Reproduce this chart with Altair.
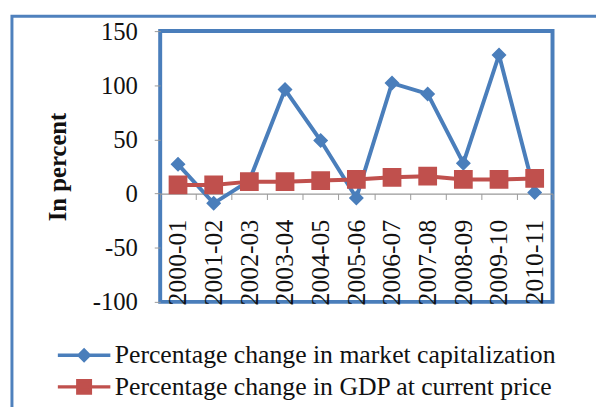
import altair as alt
import pandas as pd

years = ["2000-01", "2001-02", "2002-03", "2003-04", "2004-05", "2005-06",
         "2006-07", "2007-08", "2008-09", "2009-10", "2010-11"]
market_cap = [27, -9, 12, 96, 49, -4, 102, 92, 28, 128, 1]
gdp = [8, 8, 11, 11, 12, 13, 15, 16, 13, 13, 14]
series_names = ["Percentage change in market capitalization",
                "Percentage change in GDP at current price"]
series_colors = ["#4a7ebb", "#c0504d"]
y_ticks = [-100, -50, 0, 50, 100, 150]

rows = []
for s, vals in zip(series_names, [market_cap, gdp]):
    for yr, v in zip(years, vals):
        rows.append({"year": yr, "series": s, "value": v})
df = pd.DataFrame(rows)

W, H = 397, 274
SERIF = "Liberation Serif"
zero_px = H * 150 / 250
x_offset = -(H - zero_px)

diamond = "M-4.2,0H4.2M0,-0.8L0.8,0L0,0.8L-0.8,0Z"
square = "M-4.2,0H4.2M-1,-1H1V1H-1Z"

color_scale = alt.Scale(domain=series_names, range=series_colors)
shape_scale = alt.Scale(domain=series_names, range=[diamond, square])

x_enc = alt.X("year:N",
              scale=alt.Scale(type="band", domain=years, paddingInner=0, paddingOuter=0),
              axis=alt.Axis(title=None, offset=x_offset, labelAngle=270,
                            labelFont=SERIF, labelFontSize=26, labelColor="#111",
                            labelPadding=20, labelOverlap=False, labelLimit=300,
                            tickBand="extent", tickSize=6, tickColor="#999",
                            domainColor="#999", domainWidth=1.2))
y_enc = alt.Y("value:Q",
              scale=alt.Scale(domain=[-100, 150], nice=False, zero=False),
              axis=alt.Axis(title="In percent", values=y_ticks, grid=False, domain=False,
                            labelExpr="'' + datum.value",
                            tickSize=6, tickColor="#999", labelPadding=17,
                            labelFont=SERIF, labelFontSize=25, labelColor="#111",
                            titleFont=SERIF, titleFontSize=25, titleFontWeight="bold",
                            titleColor="#111", titleAngle=270, titleX=-104, titleY=H / 2,
                            titleAlign="center", titleBaseline="middle"))

base = alt.Chart(df)

lines = base.mark_line(strokeWidth=4).encode(
    x=x_enc, y=y_enc,
    stroke=alt.Stroke("series:N", scale=color_scale),
)

points = base.mark_point(filled=True, size=360, strokeWidth=3.5, opacity=1).encode(
    x=x_enc, y=y_enc,
    fill=alt.Fill("series:N", scale=color_scale,
                  legend=alt.Legend(title=None, orient="none", legendX=-90, legendY=315,
                                    direction="vertical", padding=0, symbolSize=160,
                                    symbolStrokeWidth=3.5, labelOffset=18, rowPadding=5,
                                    labelFont=SERIF, labelFontSize=26, labelColor="#111",
                                    labelLimit=1000)),
    stroke=alt.Stroke("series:N", scale=color_scale),
    shape=alt.Shape("series:N", scale=shape_scale),
    strokeOpacity=alt.value(0),
)

frame = alt.Chart(pd.DataFrame({"a": [0]})).mark_rect(
    fill="transparent", stroke="#4f81bd", strokeWidth=3
).encode(x=alt.value(-150), x2=alt.value(470), y=alt.value(-15), y2=alt.value(400))

chart = alt.layer(frame, lines, points).properties(
    width=W, height=H,
    background="white",
    autosize=alt.AutoSizeParams(type="none"),
    padding={"left": 154, "top": 21, "right": 44, "bottom": 104},
).configure_view(stroke="#4a7ebb", strokeWidth=4)

chart.save("out.html", embed_options={"renderer": "svg", "actions": False})
